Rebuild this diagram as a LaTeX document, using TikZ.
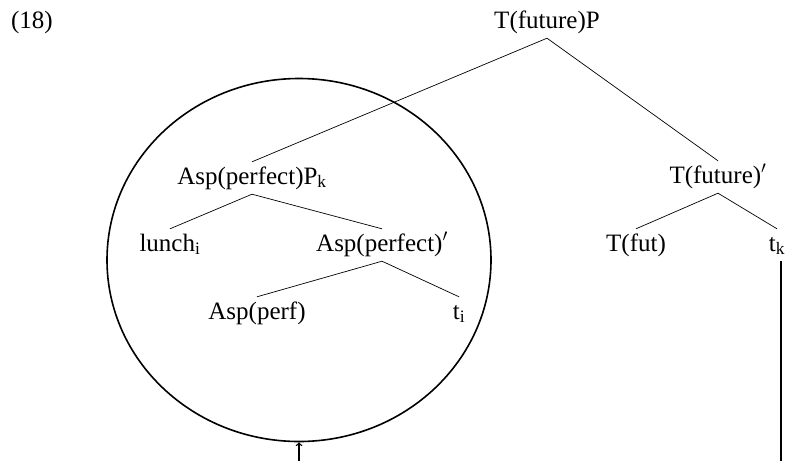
\documentclass[tikz,border=0pt]{standalone}
\usepackage{fontspec}
\setmainfont{Liberation Serif}
\usetikzlibrary{shapes.geometric}
\tikzstyle{cat}    = [anchor=base, font=\fontsize{25}{30}\selectfont, text height=17pt, text depth=5pt, inner xsep=1pt, inner ysep=5pt]
\tikzstyle{branch} = [line width=0.7pt]
\tikzstyle{ring}   = [draw, ellipse, line width=1.6pt, minimum width=384pt, minimum height=363pt, inner sep=0pt]
\tikzstyle{track}  = [line width=1.4pt]
\def\br#1#2{ \draw[branch] (#1.south) -- (#2.north); }

\begin{document}
\begin{tikzpicture}[x=1pt, y=-1pt]
      \useasboundingbox (0,0) rectangle (790,461);
      \node[cat] (ex)     at (32,28)   {(18)};
      \node[cat] (tp)     at (547,28)  {T(future)P};
      \node[cat] (aspp)   at (252,184) {Asp(perfect)P\textsubscript{k}};
      \node[cat] (tbar)   at (718,183) {T(future)$'$};
      \node[cat] (lunch)  at (170,251) {lunch\textsubscript{i}};
      \node[cat] (aspbar) at (382,251) {Asp(perfect)$'$};
      \node[cat] (tfut)   at (636,251) {T(fut)};
      \node[cat] (tk)     at (777,251) {t\textsubscript{k}};
      \node[cat] (asp)    at (257,319) {Asp(perf)};
      \node[cat] (ti)     at (459,319) {t\textsubscript{i}};
      \br{tp}{aspp} \br{tp}{tbar}
      \br{aspp}{lunch} \br{aspp}{aspbar}
      \br{aspbar}{asp} \br{aspbar}{ti}
      \br{tbar}{tfut} \br{tbar}{tk}
      \node[ring] (circ) at (299,260) {};
      \coordinate (arrbot) at (299,461);
      \coordinate (tkbot)  at (781,461);
      \draw[track, ->] (arrbot) -- (circ.south);
      \draw[track] (tk.south -| tkbot) -- (tkbot);
    \end{tikzpicture}
\end{document}
